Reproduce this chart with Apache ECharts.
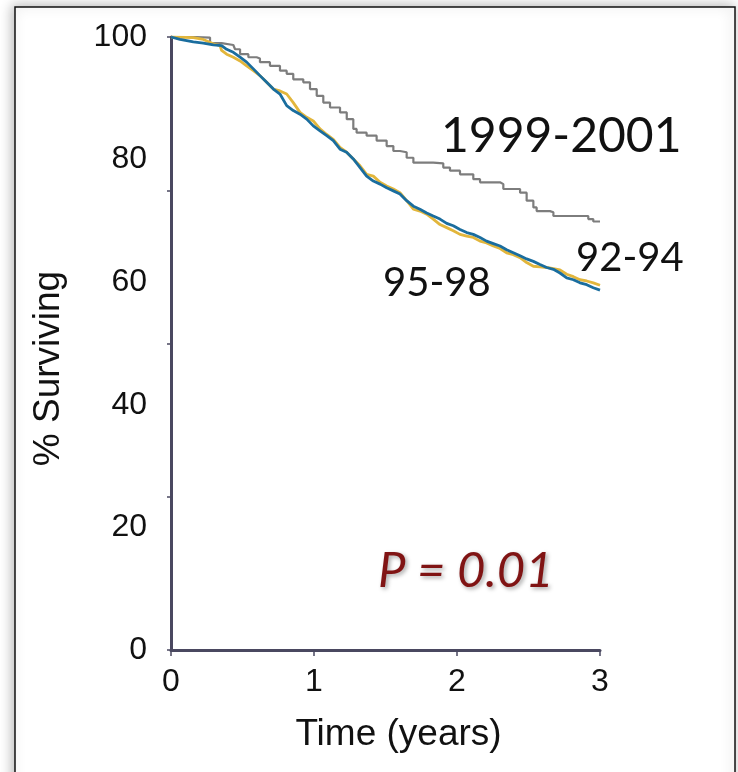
<!DOCTYPE html>
<html>
<head>
<meta charset="utf-8">
<script src="https://cdn.jsdelivr.net/npm/echarts@6/dist/echarts.min.js"></script>
<style>
  html, body { margin: 0; padding: 0; background: #ffffff; }
  #chart { width: 738px; height: 772px; }
</style>
</head>
<body>
<div id="chart"></div>
<script>
// ---- Data (years, % surviving) ----
const xTicks = [0, 1, 2, 3];
const yLabelTicks = [0, 20, 40, 60, 80, 100];

const timesGray = [0, 0.156, 0.273, 0.354, 0.436, 0.448, 0.483, 0.541, 0.599, 0.622, 0.692, 0.762, 0.809, 0.855, 0.925, 0.972, 1.019, 1.065, 1.112, 1.182, 1.229, 1.275, 1.298, 1.368, 1.438, 1.508, 1.555, 1.601, 1.648, 1.695, 1.834, 1.904, 1.951, 2.021, 2.114, 2.161, 2.301, 2.324, 2.441, 2.487, 2.534, 2.557, 2.650, 2.674, 2.883, 2.918, 2.953, 3.0];
const survGray  = [100, 99.9, 99.0, 98.7, 98.6, 98.0, 97.2, 96.7, 96.5, 95.9, 95.3, 94.5, 94.0, 93.1, 92.6, 91.5, 90.4, 89.3, 88.5, 87.7, 86.6, 85.0, 84.4, 83.9, 83.1, 82.2, 81.4, 81.2, 80.3, 79.5, 79.4, 78.7, 78.2, 77.6, 76.8, 76.3, 76.0, 75.2, 74.6, 73.3, 72.2, 71.6, 71.4, 70.8, 70.8, 70.3, 69.9, 69.9];

const timesBlue = [0, 0.063, 0.156, 0.226, 0.296, 0.354, 0.389, 0.436, 0.483, 0.529, 0.576, 0.622, 0.669, 0.716, 0.762, 0.809, 0.855, 0.902, 0.949, 0.995, 1.042, 1.089, 1.135, 1.182, 1.228, 1.275, 1.322, 1.368, 1.415, 1.462, 1.508, 1.555, 1.601, 1.648, 1.695, 1.741, 1.788, 1.834, 1.881, 1.928, 1.974, 2.021, 2.068, 2.114, 2.161, 2.207, 2.254, 2.301, 2.347, 2.394, 2.441, 2.487, 2.534, 2.580, 2.627, 2.674, 2.720, 2.767, 2.814, 2.860, 2.907, 2.953, 3.0];
const survBlue  = [100, 99.6, 99.2, 99.0, 98.7, 98.6, 98.0, 97.5, 96.7, 95.9, 94.8, 93.7, 92.6, 91.5, 90.7, 88.8, 88.0, 87.4, 86.6, 85.5, 84.7, 83.9, 83.1, 81.7, 81.2, 80.1, 78.7, 77.3, 76.5, 76.0, 75.4, 74.9, 74.4, 73.3, 72.4, 71.9, 71.3, 70.8, 70.3, 69.6, 69.2, 68.6, 68.1, 67.8, 67.3, 66.7, 66.3, 65.9, 65.3, 64.8, 64.3, 63.8, 63.4, 62.9, 62.4, 62.1, 61.5, 60.7, 60.4, 59.9, 59.6, 59.1, 58.7];

const timesYellow = [0, 0.156, 0.226, 0.296, 0.343, 0.354, 0.389, 0.436, 0.483, 0.529, 0.576, 0.622, 0.669, 0.716, 0.762, 0.809, 0.855, 0.902, 0.949, 0.995, 1.042, 1.089, 1.135, 1.182, 1.228, 1.275, 1.322, 1.368, 1.415, 1.462, 1.508, 1.555, 1.601, 1.648, 1.695, 1.741, 1.788, 1.834, 1.881, 1.928, 1.974, 2.021, 2.068, 2.114, 2.161, 2.207, 2.254, 2.301, 2.347, 2.394, 2.441, 2.487, 2.534, 2.580, 2.627, 2.674, 2.720, 2.767, 2.814, 2.860, 2.907, 2.953, 3.0];
const survYellow  = [100, 99.9, 99.6, 98.9, 98.6, 97.8, 97.2, 96.7, 96.1, 95.3, 94.5, 93.7, 92.6, 91.5, 91.2, 90.7, 89.3, 87.7, 86.9, 86.3, 85.0, 84.1, 83.3, 82.0, 81.2, 80.1, 79.0, 77.6, 77.3, 76.3, 75.7, 75.2, 74.6, 73.3, 71.9, 71.6, 71.1, 70.3, 69.4, 68.9, 68.4, 67.8, 67.5, 67.3, 66.7, 66.4, 65.9, 65.5, 64.8, 64.5, 64.0, 63.2, 62.6, 62.5, 62.4, 62.2, 62.0, 61.3, 60.9, 60.4, 60.2, 59.9, 59.5];

const seriesNames = ['1999-2001', '92-94', '95-98'];
const pText = 'P = 0.01';

function pairs(t, v) { return t.map((x, i) => [x, v[i]]); }

const chart = echarts.init(document.getElementById('chart'), null, { renderer: 'canvas' });
const axisColor = '#4a4860';
const arial = '"Liberation Sans", Arial, sans-serif';
const calib = 'Lato, "Open Sans", sans-serif';

const option = {
  backgroundColor: '#ffffff',
  animation: false,
  grid: { left: 171, top: 37, right: 138, bottom: 122, containLabel: false },
  xAxis: {
    type: 'value', min: 0, max: 3, interval: 1,
    name: 'Time (years)', nameLocation: 'middle', nameGap: 66,
    nameTextStyle: { fontFamily: arial, fontSize: 37, color: '#111', padding: [0, 0, 0, 26] },
    axisLine: { show: true, onZero: false, lineStyle: { color: axisColor, width: 3 } },
    axisTick: { show: true, inside: false, length: 6, lineStyle: { color: axisColor, width: 1.5 } },
    axisLabel: { fontFamily: arial, fontSize: 32, color: '#111', margin: 16 },
    splitLine: { show: false }
  },
  yAxis: [
    {
      type: 'value', min: 0, max: 100, interval: 20,
      name: '% Surviving', nameLocation: 'middle', nameGap: 104, nameRotate: 90,
      nameTextStyle: { fontFamily: arial, fontSize: 37, color: '#111', padding: [0, 50, 0, 0] },
      axisLine: { show: true, lineStyle: { color: axisColor, width: 3 } },
      axisTick: { show: false },
      axisLabel: { fontFamily: arial, fontSize: 32, color: '#111', margin: 24 },
      splitLine: { show: false }
    },
    {
      type: 'value', min: 0, max: 100, interval: 25, position: 'left',
      axisLine: { show: false },
      axisTick: { show: true, length: 4, lineStyle: { color: axisColor, width: 1.5 } },
      axisLabel: { show: false },
      splitLine: { show: false }
    }
  ],
  series: [
    {
      name: seriesNames[0], type: 'line', step: 'end', showSymbol: false,
      data: pairs(timesGray, survGray),
      lineStyle: { color: '#7d7d7d', width: 2.2 }, z: 3
    },
    {
      name: seriesNames[1], type: 'line', showSymbol: false,
      data: pairs(timesYellow, survYellow),
      lineStyle: { color: '#e2b63c', width: 2.8 }, z: 4
    },
    {
      name: seriesNames[2], type: 'line', showSymbol: false,
      data: pairs(timesBlue, survBlue),
      lineStyle: { color: '#1a6d9e', width: 2.8 }, z: 5
    }
  ],
  graphic: [
    {
      type: 'rect', z: -10, silent: true,
      shape: { x: 15, y: 7, width: 720, height: 800 },
      style: { fill: '#ffffff', stroke: '#111', lineWidth: 1.5, shadowBlur: 12, shadowColor: 'rgba(0,0,0,0.28)', shadowOffsetX: -2, shadowOffsetY: -1 }
    },
    {
      type: 'text', left: 441, top: 113, z: 10,
      style: { text: seriesNames[0], fontFamily: calib, fontSize: 48, fill: '#111' }
    },
    {
      type: 'text', left: 576, top: 238, z: 10,
      style: { text: seriesNames[1], fontFamily: calib, fontSize: 40, fill: '#111' }
    },
    {
      type: 'text', left: 383, top: 263, z: 10,
      style: { text: seriesNames[2], fontFamily: calib, fontSize: 40, fill: '#111' }
    },
    {
      type: 'text', left: 378, top: 547, z: 10,
      style: { text: pText, fontFamily: calib, fontStyle: 'italic', fontSize: 49, fill: '#801414',
        textShadowColor: 'rgba(0,0,0,0.35)', textShadowBlur: 4, textShadowOffsetX: 2, textShadowOffsetY: 2 }
    }
  ]
};
chart.setOption(option);
</script>
</body>
</html>
